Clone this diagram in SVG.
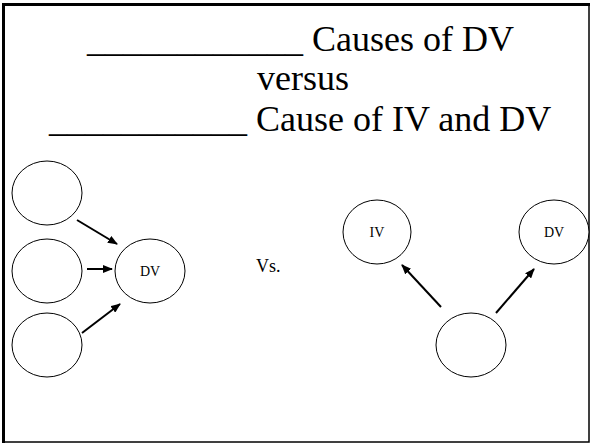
<svg xmlns="http://www.w3.org/2000/svg" width="592" height="445" viewBox="0 0 592 445">
<style>
  .node { fill: #ffffff; stroke: #000000; stroke-width: 1; }
  .serif { font-family: 'Liberation Serif', Tinos, 'Times New Roman', 'DejaVu Serif', serif; fill: #000000; }
  .lbl { font-size: 14px; text-anchor: middle; }
  .title { font-size: 36px; }
  .conn { stroke: #000000; stroke-width: 2; fill: none; marker-end: url(#arrow); }
</style>
<defs>
  <marker id="arrow" markerUnits="userSpaceOnUse" markerWidth="10" markerHeight="8" refX="9" refY="4" orient="auto">
    <path d="M0,0 L10,4 L0,8 z" fill="#000000"/>
  </marker>
</defs>
<rect x="0" y="0" width="592" height="445" fill="#ffffff"/>
<g id="frame">
  <rect x="3.5" y="4.5" width="585.5" height="437.5" fill="none" stroke="#000000" stroke-width="1.5"/>
  <line x1="3.5" y1="3" x2="3.5" y2="443" stroke="#000000" stroke-width="3"/>
  <line x1="2" y1="4.5" x2="590" y2="4.5" stroke="#000000" stroke-width="3"/>
</g>
<g id="title">
  <text class="serif title" x="87" y="51">____________ Causes of DV</text>
  <text class="serif title" x="257" y="90">versus</text>
  <text class="serif title" x="49" y="131">___________ Cause of IV and DV</text>
</g>
<g id="connectors">
  <line class="conn" x1="77" y1="220" x2="117" y2="244"/>
  <line class="conn" x1="87" y1="269" x2="112" y2="269"/>
  <line class="conn" x1="82" y1="333" x2="120" y2="304"/>
  <line class="conn" x1="441" y1="307" x2="402" y2="265"/>
  <line class="conn" x1="496" y1="313" x2="534" y2="269"/>
</g>
<g id="cause1"><ellipse class="node" cx="47" cy="193" rx="35" ry="32"/></g>
<g id="cause2"><ellipse class="node" cx="47" cy="271" rx="35" ry="32"/></g>
<g id="cause3"><ellipse class="node" cx="47" cy="345" rx="35" ry="32"/></g>
<g id="dv-left"><ellipse class="node" cx="150" cy="271" rx="35" ry="32"/><text class="serif lbl" x="150" y="276">DV</text></g>
<g id="vs"><text class="serif" x="256" y="272" font-size="18">Vs.</text></g>
<g id="iv"><ellipse class="node" cx="377" cy="232" rx="34" ry="32"/><text class="serif lbl" x="377" y="237">IV</text></g>
<g id="dv-right"><ellipse class="node" cx="554" cy="232" rx="35" ry="32"/><text class="serif lbl" x="554" y="237">DV</text></g>
<g id="common-cause"><ellipse class="node" cx="471" cy="345" rx="35" ry="32"/></g>
</svg>
